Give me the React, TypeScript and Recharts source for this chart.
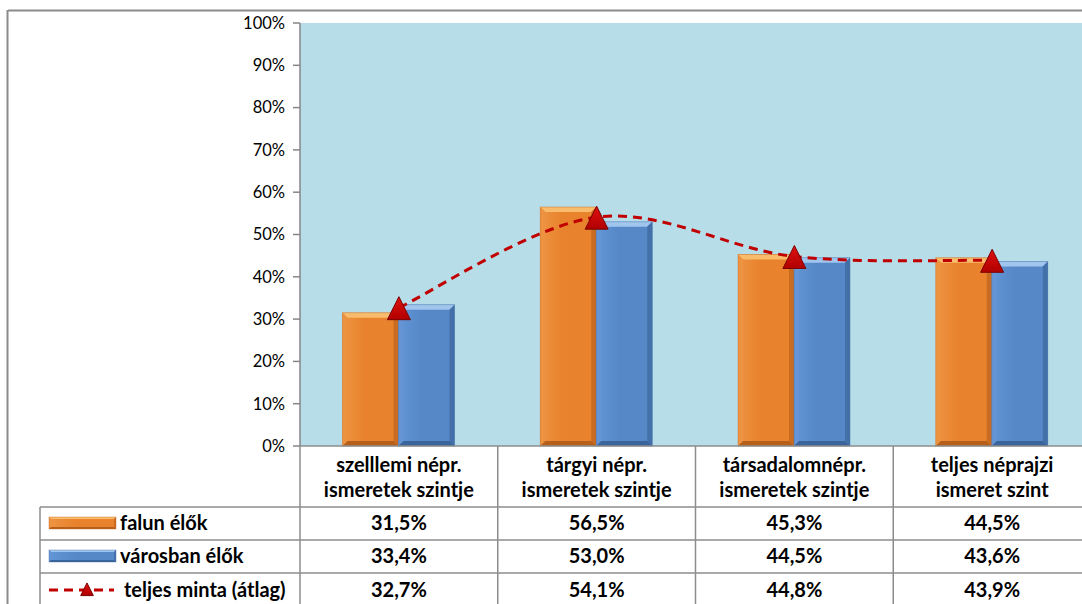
import React from 'react';
import { ComposedChart, Bar, Line, XAxis, YAxis, CartesianGrid } from 'recharts';

const categories = [
  'szelllemi népr.\nismeretek szintje',
  'tárgyi népr.\nismeretek szintje',
  'társadalomnépr.\nismeretek szintje',
  'teljes néprajzi\nismeret szint',
];
const falunEloek = [31.5, 56.5, 45.3, 44.5];
const varosbanEloek = [33.4, 53.0, 44.5, 43.6];
const teljesMinta = [32.7, 54.1, 44.8, 43.9];
const yTicks = [0, 10, 20, 30, 40, 50, 60, 70, 80, 90, 100];
const seriesNames = ['falun élők', 'városban élők', 'teljes minta (átlag)'];

const data = categories.map((c, i) => ({
  cat: c,
  falun: falunEloek[i],
  varosban: varosbanEloek[i],
  teljes: teljesMinta[i],
}));

const FONT = 'Lato, "Open Sans", sans-serif';
const GRID = '#8c8c8c';
const TABLE_TOP = 446;
const H = 604;
const TFS = 20;

const ORANGE = { main: '#E8822C', top: '#F8BC6C', left: '#EC9240', right: '#C96B20', bottom: '#B65F1A', light: '#EE9444' };
const BLUE = { main: '#5688C8', top: '#A0C6EE', left: '#6595D4', right: '#4470AA', bottom: '#3A659C', light: '#6396D6' };

const fmt = (v: number) => v.toFixed(1).replace('.', ',') + '%';

const BevelRect = ({ x, y, width, height, pal, b = 5, id }: any) => {
  if (!width || !height || height <= 0) return null;
  const bb = Math.min(b, width / 3, height / 3);
  return (
    <g>
      <defs>
        <linearGradient id={id} x1="0" y1="0" x2="1" y2="0">
          <stop offset="0" stopColor={pal.light} />
          <stop offset="0.4" stopColor={pal.main} />
          <stop offset="1" stopColor={pal.main} />
        </linearGradient>
      </defs>
      <rect x={x} y={y} width={width} height={height} fill={`url(#${id})`} />
      <polygon points={`${x},${y} ${x + width},${y} ${x + width - bb},${y + bb} ${x + bb},${y + bb}`} fill={pal.top} />
      <polygon points={`${x},${y} ${x + bb},${y + bb} ${x + bb},${y + height - bb} ${x},${y + height}`} fill={pal.left} />
      <polygon points={`${x + width},${y} ${x + width},${y + height} ${x + width - bb},${y + height - bb} ${x + width - bb},${y + bb}`} fill={pal.right} />
      <polygon points={`${x},${y + height} ${x + bb},${y + height - bb} ${x + width - bb},${y + height - bb} ${x + width},${y + height}`} fill={pal.bottom} />
      <rect x={x} y={y} width={width} height={height} fill="none" stroke={pal.right} strokeOpacity={0.5} strokeWidth={0.8} />
    </g>
  );
};

const TriangleMark = ({ cx, cy, s = 1 }: any) => {
  if (cx == null || cy == null) return null;
  return (
    <g>
      <defs>
        <linearGradient id="triGrad" x1="0" y1="0" x2="0" y2="1">
          <stop offset="0" stopColor="#E01010" />
          <stop offset="1" stopColor="#B00000" />
        </linearGradient>
      </defs>
      <polygon
        points={`${cx},${cy - 11 * s} ${cx - 11.5 * s},${cy + 12 * s} ${cx + 11.5 * s},${cy + 12 * s}`}
        fill="url(#triGrad)"
        stroke="#7A0000"
        strokeWidth={1}
      />
    </g>
  );
};

// Excel-like smoothed line (Catmull-Rom with 1/6 tangent factor)
function excelCurve(context: any) {
  let pts: number[][] = [];
  return {
    areaStart() {},
    areaEnd() {},
    lineStart() {
      pts = [];
    },
    lineEnd() {
      const n = pts.length;
      if (!n) return;
      context.moveTo(pts[0][0], pts[0][1]);
      for (let i = 0; i < n - 1; i++) {
        const p0 = pts[Math.max(0, i - 1)];
        const p1 = pts[i];
        const p2 = pts[i + 1];
        const p3 = pts[Math.min(n - 1, i + 2)];
        context.bezierCurveTo(
          p1[0] + (p2[0] - p0[0]) / 6,
          p1[1] + (p2[1] - p0[1]) / 6,
          p2[0] - (p3[0] - p1[0]) / 6,
          p2[1] - (p3[1] - p1[1]) / 6,
          p2[0],
          p2[1]
        );
      }
    },
    point(x: number, y: number) {
      pts.push([+x, +y]);
    },
  };
}

const rowSeries = [falunEloek, varosbanEloek, teljesMinta];
const rowBaselines = [530, 563, 597];

const TableTick = (props: any) => {
  const { x, payload, index } = props;
  const band = (typeof props.width === 'number' && props.width > 0 ? props.width : 791) / categories.length;
  const left = x - band / 2;
  const right = x + band / 2;
  const lines = String(payload.value).split('\n');
  return (
    <g>
      <line x1={left} x2={left} y1={TABLE_TOP} y2={H} stroke={GRID} strokeWidth={1.5} />
      {index === categories.length - 1 && (
        <line x1={right} x2={right} y1={TABLE_TOP} y2={H} stroke={GRID} strokeWidth={1.5} />
      )}
      <text x={x} y={472} textAnchor="middle" fontFamily={FONT} fontWeight={700} fontSize={TFS} fill="#000">
        {lines[0]}
      </text>
      <text x={x} y={497} textAnchor="middle" fontFamily={FONT} fontWeight={700} fontSize={TFS} fill="#000">
        {lines[1]}
      </text>
      {rowSeries.map((arr, r) => (
        <text key={r} x={x} y={rowBaselines[r]} textAnchor="middle" fontFamily={FONT} fontWeight={700} fontSize={TFS} fill="#000">
          {fmt(arr[index])}
        </text>
      ))}
    </g>
  );
};

export default function App() {
  return (
    <div style={{ position: 'fixed', left: 0, top: 0, width: 1082, height: 604, overflow: 'hidden', background: '#fff' }}>
      <ComposedChart
        width={1100}
        height={604}
        data={data}
        margin={{ top: 23, right: 9, bottom: 0, left: 0 }}
        barCategoryGap="21.5%"
        barGap={0}
      >
        <CartesianGrid fill="#B7DDE8" horizontal={false} vertical={false} stroke="none" />
        <YAxis
          width={300}
          domain={[0, 100]}
          ticks={yTicks}
          interval={0}
          tickFormatter={(v: number) => `${v}%`}
          axisLine={{ stroke: '#868686', strokeWidth: 1.5 }}
          tickLine={{ stroke: '#868686', strokeWidth: 1.5 }}
          tickSize={7}
          tickMargin={8}
          tick={{ fill: '#000', fontSize: 16.5, fontFamily: FONT }}
        />
        <XAxis
          dataKey="cat"
          height={158}
          interval={0}
          axisLine={{ stroke: GRID, strokeWidth: 1.5 }}
          tickLine={false}
          tick={<TableTick />}
        />
        <Bar
          dataKey="falun"
          name={seriesNames[0]}
          isAnimationActive={false}
          shape={(p: any) => <BevelRect {...p} pal={ORANGE} id={`og${p.index}`} />}
        />
        <Bar
          dataKey="varosban"
          name={seriesNames[1]}
          isAnimationActive={false}
          shape={(p: any) => <BevelRect {...p} pal={BLUE} id={`bg${p.index}`} />}
        />
        <Line
          dataKey="teljes"
          name={seriesNames[2]}
          type={excelCurve as any}
          stroke="#C00000"
          strokeWidth={3}
          strokeDasharray="9 6"
          isAnimationActive={false}
          dot={(p: any) => <TriangleMark key={p.index} cx={p.cx} cy={p.cy} />}
          activeDot={false}
        />
      </ComposedChart>
      <svg
        width={1082}
        height={604}
        style={{ position: 'absolute', left: 0, top: 0, pointerEvents: 'none' }}
      >
        {/* outer frame */}
        <line x1={8} x2={1082} y1={10.5} y2={10.5} stroke="#8c8c8c" strokeWidth={2} />
        <line x1={7.5} x2={7.5} y1={10} y2={604} stroke="#8c8c8c" strokeWidth={2} />
        {/* table grid */}
        {[507, 540, 573].map((y) => (
          <line key={y} x1={40} x2={1082} y1={y} y2={y} stroke={GRID} strokeWidth={1.5} />
        ))}
        <line x1={40} x2={40} y1={507} y2={604} stroke={GRID} strokeWidth={1.5} />
        {/* legend keys */}
        <BevelRect x={49} y={517} width={67} height={12} pal={ORANGE} b={2} id="lgO" />
        <BevelRect x={49} y={550} width={67} height={12} pal={BLUE} b={2} id="lgB" />
        <line x1={49} x2={114} y1={590} y2={590} stroke="#C00000" strokeWidth={3} strokeDasharray="9 6" />
        <TriangleMark cx={87} cy={589} s={0.55} />
        <text x={120} y={530} fontFamily={FONT} fontWeight={700} fontSize={TFS} fill="#000">{seriesNames[0]}</text>
        <text x={120} y={563} fontFamily={FONT} fontWeight={700} fontSize={TFS} fill="#000">{seriesNames[1]}</text>
        <text x={124} y={597} fontFamily={FONT} fontWeight={700} fontSize={TFS} fill="#000">{seriesNames[2]}</text>
      </svg>
    </div>
  );
}
